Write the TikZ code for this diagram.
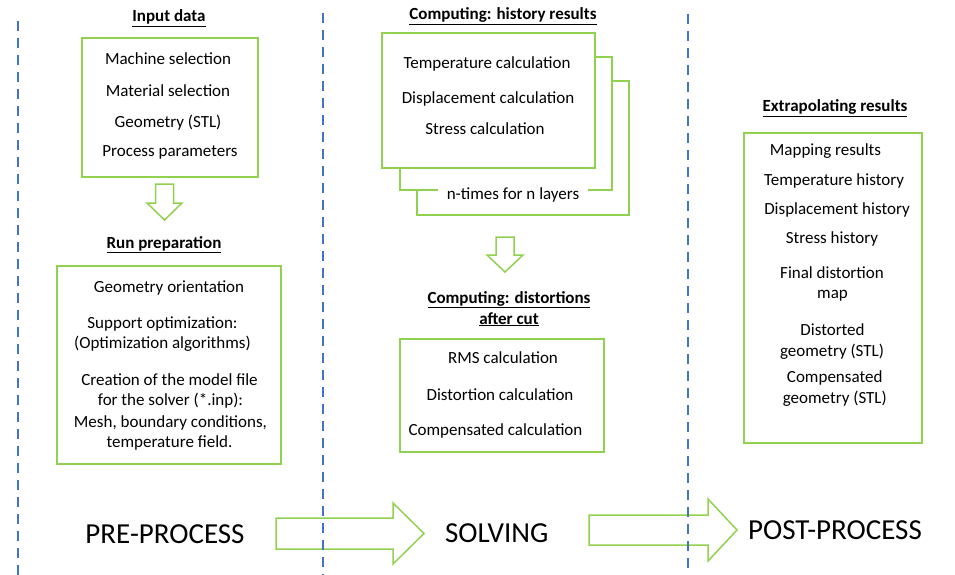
\documentclass[tikz,border=0pt]{standalone}
\usepackage{fontspec}
\setmainfont{Carlito}
\definecolor{boxgreen}{HTML}{92D050}
\definecolor{lineblue}{HTML}{4472C4}

\begin{document}
\begin{tikzpicture}[x=1pt, y=-1pt,
    stepbox/.style ={draw=boxgreen, line width=2pt, fill=white, inner sep=0pt},
    entry/.style   ={anchor=base, inner sep=0pt, font=\fontsize{17}{20}\selectfont},
    headtext/.style={entry, font=\fontsize{17}{20}\selectfont\bfseries},
    phasetext/.style={anchor=base, inner sep=0pt, font=\fontsize{29}{35}\selectfont},
    blockarrow/.style={draw=boxgreen, line width=1.5pt, line join=miter},
    divider/.style ={draw=lineblue, line width=2.2pt, dash pattern=on 10pt off 7pt}]
   \useasboundingbox (0,0) rectangle (955,575);

   % pre-process column
   \node[headtext] (inhead) at (169,22) {\underline{Input data}};
   \node[stepbox, minimum width=176pt, minimum height=139pt] (inbox) at (170,107.5) {};
   \node[entry] (in1) at (168,65)  {Machine selection};
   \node[entry] (in2) at (168,97)  {Material selection};
   \node[entry] (in3) at (168,128) {Geometry (STL)};
   \node[entry] (in4) at (170,157) {Process parameters};

   \node[headtext] (prephead) at (164,248) {\underline{Run preparation}};
   \node[stepbox, minimum width=224pt, minimum height=198pt] (prepbox) at (169,365) {};
   \node[entry] (prep1) at (169,292)  {Geometry orientation};
   \node[entry] (prep2) at (162.5,328) {Support optimization:};
   \node[entry] (prep3) at (162.5,348) {(Optimization algorithms)};
   \node[entry] (prep4) at (169.5,385) {Creation of the model file};
   \node[entry] (prep5) at (170.5,405) {for the solver (*.inp):};
   \node[entry] (prep6) at (170.5,427) {Mesh, boundary conditions,};
   \node[entry] (prep7) at (169.5,447) {temperature field.};

   % solving column
   \node[headtext] (histhead) at (503,20) {\underline{Computing: history results}};
   \node[stepbox, minimum width=212pt, minimum height=134pt] (histback) at (523,148) {};
   \node[stepbox, minimum width=212pt, minimum height=133pt] (histmid) at (506,123.5) {};
   \node[stepbox, minimum width=213pt, minimum height=135pt] (histbox) at (488.5,100.5) {};
   \node[entry] (hist1) at (487,69)  {Temperature calculation};
   \node[entry] (hist2) at (488,103) {Displacement calculation};
   \node[entry] (hist3) at (485,135) {Stress calculation};
   \node[entry, fill=white, inner xsep=9pt, inner ysep=2pt] (layers) at (513,199) {n-times for n layers};

   \node[headtext] (disthead1) at (509,303) {\underline{Computing: distortions}};
   \node[headtext] (disthead2) at (509,324) {\underline{after cut}};
   \node[stepbox, minimum width=204pt, minimum height=113pt] (distbox) at (502,395.5) {};
   \node[entry] (dist1) at (503,363)   {RMS calculation};
   \node[entry] (dist2) at (500,400)   {Distortion calculation};
   \node[entry] (dist3) at (495.5,435) {Compensated calculation};

   % post-process column
   \node[headtext] (exthead) at (835,112) {\underline{Extrapolating results}};
   \node[stepbox, minimum width=178pt, minimum height=310pt] (extbox) at (833,288) {};
   \node[entry] (ext1) at (825.5,155) {Mapping results};
   \node[entry] (ext2) at (834,185)   {Temperature history};
   \node[entry] (ext3) at (837,214)   {Displacement history};
   \node[entry] (ext4) at (832,243)   {Stress history};
   \node[entry] (ext5) at (832,278)   {Final distortion};
   \node[entry] (ext6) at (832.5,298) {map};
   \node[entry] (ext7) at (832.5,335) {Distorted};
   \node[entry] (ext8) at (832,356)   {geometry (STL)};
   \node[entry] (ext9) at (834.7,382) {Compensated};
   \node[entry] (ext10) at (834.8,403) {geometry (STL)};

   % phases
   \node[phasetext] (pre)  at (165,543)   {PRE-PROCESS};
   \node[phasetext] (solv) at (496.7,542) {SOLVING};
   \node[phasetext] (post) at (835,539)   {POST-PROCESS};

   % block arrows
   \draw[blockarrow] (155.5,184) -- (173.5,184) -- (173.5,203) -- (182,203)
       -- (164.5,220) -- (147,203) -- (155.5,203) -- cycle;
   \draw[blockarrow] (496,237) -- (514,237) -- (514,255) -- (523,255)
       -- (505,272) -- (487,255) -- (496,255) -- cycle;
   \draw[blockarrow] (276,518) -- (393,518) -- (393,503) -- (424,533.5)
       -- (393,564) -- (393,549) -- (276,549) -- cycle;
   \draw[blockarrow] (589,515) -- (708,515) -- (708,499) -- (737,530)
       -- (708,561) -- (708,545) -- (589,545) -- cycle;

   % column dividers
   \draw[divider] (18,21) -- (18,575);
   \draw[divider] (323,13) -- (323,575);
   \draw[divider] (688,14) -- (688,575);
\end{tikzpicture}
\end{document}
